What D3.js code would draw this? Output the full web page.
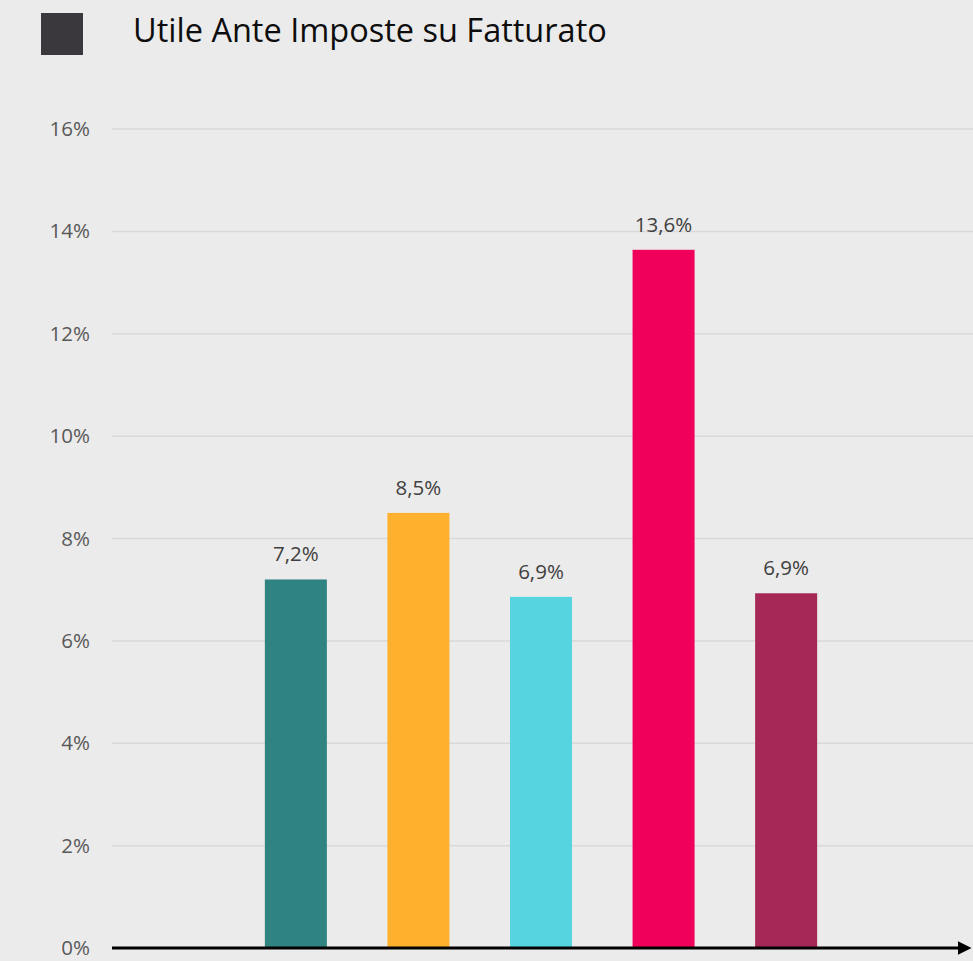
<!DOCTYPE html>
<html><head><meta charset="utf-8">
<script src="https://cdn.jsdelivr.net/npm/d3@7"></script>
<style>
html,body{margin:0;padding:0;background:#ebebeb;}
svg{display:block;}
</style></head>
<body>
<svg id="chart" width="973" height="961"></svg>
<script>
const title = "Utile Ante Imposte su Fatturato";
// x slots: first and last are empty in the original chart
const slots = ["s0", "A", "B", "C", "D", "E", "s6"];
const categories = ["A", "B", "C", "D", "E"];
const values = [7.2, 8.5, 6.86, 13.64, 6.93];
const labels = ["7,2%", "8,5%", "6,9%", "13,6%", "6,9%"];
const colors = ["#2f8481", "#ffb12e", "#56d4e0", "#f0005a", "#a52856"];
const yTicks = [0, 2, 4, 6, 8, 10, 12, 14, 16];

(function () {
const W = 973, H = 961;
const svg = d3.select("#chart");
svg.append("rect").attr("width", W).attr("height", H).attr("fill", "#ebebeb");

const mLeft = 112, mRight = 970, mTop = 129, mBottom = 948;
const x = d3.scaleBand().domain(slots).range([mLeft, mRight]).paddingInner(0.494).paddingOuter(0.247);
const y = d3.scaleLinear().domain([0, 16]).range([mBottom, mTop]);

// title
svg.append("rect").attr("x", 41).attr("y", 13).attr("width", 42).attr("height", 42).attr("fill", "#3a383d");
svg.append("text").attr("x", 133).attr("y", 42)
  .attr("font-family", "'Open Sans', sans-serif").attr("font-size", 32.5).attr("fill", "#0d0d0d")
  .text(title);

// gridlines
svg.append("g").selectAll("line").data(yTicks.filter(d => d > 0)).join("line")
  .attr("x1", mLeft).attr("x2", W)
  .attr("y1", d => y(d)).attr("y2", d => y(d))
  .attr("stroke", "#d9d9d9").attr("stroke-width", 1.5);

// y axis labels
const yAxis = d3.axisLeft(y).tickValues(yTicks).tickSize(0).tickPadding(0).tickFormat(d => d + "%");
const gy = svg.append("g").attr("transform", `translate(90,0)`).call(yAxis);
gy.select(".domain").remove();
gy.selectAll("text").attr("font-family", "'Open Sans', sans-serif").attr("font-size", 20.5).attr("fill", "#595959");

// bars
svg.append("g").selectAll("rect").data(categories).join("rect")
  .attr("x", d => x(d)).attr("width", x.bandwidth())
  .attr("y", (d, i) => y(values[i])).attr("height", (d, i) => y(0) - y(values[i]))
  .attr("fill", (d, i) => colors[i]);

// value labels
svg.append("g").selectAll("text").data(categories).join("text")
  .attr("x", d => x(d) + x.bandwidth() / 2)
  .attr("y", (d, i) => y(values[i]) - 18)
  .attr("text-anchor", "middle")
  .attr("font-family", "'Open Sans', sans-serif").attr("font-size", 20.5).attr("fill", "#404040")
  .text((d, i) => labels[i]);

// x axis with arrow
const defs = svg.append("defs");
defs.append("marker").attr("id", "arrow").attr("viewBox", "0 0 10 10")
  .attr("refX", 0).attr("refY", 5).attr("markerWidth", 4.5).attr("markerHeight", 4.5)
  .attr("markerUnits", "strokeWidth").attr("orient", "auto")
  .append("path").attr("d", "M0,0L10,5L0,10Z").attr("fill", "#000");
svg.append("line").attr("x1", mLeft).attr("x2", 958).attr("y1", y(0)).attr("y2", y(0))
  .attr("stroke", "#000").attr("stroke-width", 3).attr("marker-end", "url(#arrow)");
})();
</script>
</body></html>
